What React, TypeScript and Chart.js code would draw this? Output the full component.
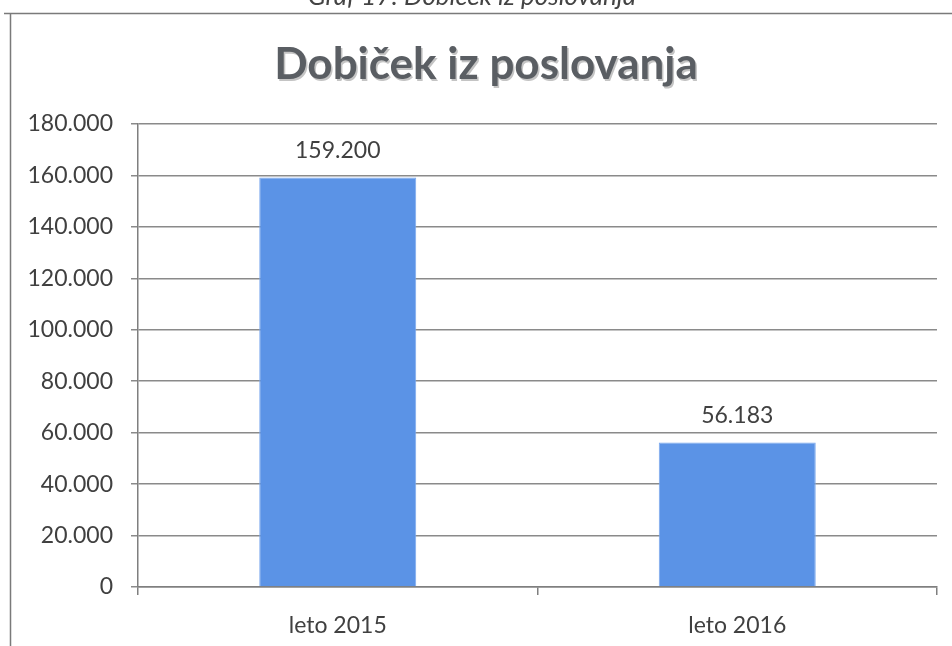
import React, { useEffect, useRef } from "react";
import { Chart, registerables } from "chart.js";

Chart.register(...registerables);

const categories = ["leto 2015", "leto 2016"];
const values = [159200, 56183];
const valueLabels = ["159.200", "56.183"];
const yTickMax = 180000;
const yTickStep = 20000;
const chartTitle = "Dobiček iz poslovanja";
const caption = "Graf 17: Dobiček iz poslovanja";

const FONT = "Lato, 'Noto Sans', sans-serif";

function fmt(v: number): string {
  return v === 0 ? "0" : v.toLocaleString("de-DE");
}

const decorPlugin = {
  id: "decor",
  beforeDraw(chart: any) {
    const ctx = chart.ctx;
    ctx.save();
    ctx.fillStyle = "#ffffff";
    ctx.fillRect(0, 0, chart.width, chart.height);
    // caption (cut at top)
    ctx.font = `italic 26px ${FONT}`;
    ctx.fillStyle = "#444";
    ctx.textAlign = "center";
    ctx.textBaseline = "alphabetic";
    ctx.fillText(caption, 472, 5);
    // frame
    ctx.strokeStyle = "#7a7a7a";
    ctx.lineWidth = 1.5;
    ctx.beginPath();
    ctx.moveTo(4, 13.5);
    ctx.lineTo(952, 13.5);
    ctx.moveTo(10.5, 13.5);
    ctx.lineTo(10.5, 646);
    ctx.stroke();
    // title
    ctx.font = `bold 44px ${FONT}`;
    ctx.textAlign = "center";
    ctx.textBaseline = "middle";
    ctx.fillStyle = "#c4c4c4";
    ctx.fillText(chartTitle, 487.5, 66.5);
    ctx.fillStyle = "#5a5e63";
    ctx.fillText(chartTitle, 486, 65);
    ctx.restore();
  },
  afterDatasetsDraw(chart: any) {
    const ctx = chart.ctx;
    const meta = chart.getDatasetMeta(0);
    ctx.save();
    ctx.font = `23px ${FONT}`;
    ctx.fillStyle = "#404040";
    ctx.textAlign = "center";
    ctx.textBaseline = "middle";
    meta.data.forEach((bar: any, i: number) => {
      ctx.fillText(valueLabels[i], bar.x, bar.y - 27);
    });
    ctx.restore();
  },
};

export default function App() {
  const ref = useRef<HTMLCanvasElement | null>(null);
  useEffect(() => {
    if (!ref.current) return;
    const chart = new Chart(ref.current, {
      type: "bar",
      data: {
        labels: categories,
        datasets: [
          {
            data: values,
            backgroundColor: "#5b93e6",
            borderColor: "#7aa8ee",
            borderWidth: 1,
            categoryPercentage: 0.393,
            barPercentage: 1,
          },
        ],
      },
      options: {
        responsive: false,
        animation: false,
        devicePixelRatio: 1,
        layout: { padding: { top: 124, right: 15, left: 0, bottom: 0 } },
        plugins: {
          legend: { display: false },
          tooltip: { enabled: false },
          title: { display: false },
        },
        scales: {
          x: {
            afterFit(scale: any) {
              scale.height = 59;
            },
            grid: {
              display: true,
              offset: true,
              drawOnChartArea: false,
              drawTicks: true,
              tickLength: 8,
              color: "#7f7f7f",
              lineWidth: 1.5,
            },
            border: { display: true, color: "#7f7f7f", width: 1.5 },
            ticks: {
              font: { family: FONT, size: 23 },
              color: "#404040",
              padding: 17,
            },
          },
          y: {
            min: 0,
            max: yTickMax,
            afterFit(scale: any) {
              scale.width = 138;
            },
            ticks: {
              stepSize: yTickStep,
              font: { family: FONT, size: 23 },
              color: "#404040",
              padding: 18,
              callback: (v: any) => fmt(Number(v)),
            },
            grid: {
              color: "#8a8a8a",
              lineWidth: 1.5,
              tickLength: 7,
            },
            border: { display: true, color: "#7f7f7f", width: 1.5 },
          },
        },
      },
      plugins: [decorPlugin],
    });
    return () => chart.destroy();
  }, []);
  return (
    <div style={{ position: "fixed", left: 0, top: 0, width: 952, height: 646, background: "#fff" }}>
      <canvas ref={ref} width={952} height={646} style={{ width: 952, height: 646 }} />
    </div>
  );
}
